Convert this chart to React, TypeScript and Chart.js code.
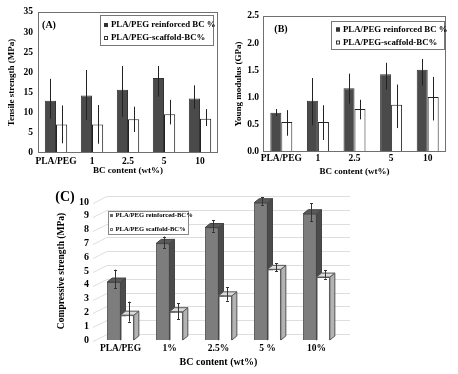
import React, { useEffect, useRef } from 'react';
import { Chart, registerables } from 'chart.js';
Chart.register(...registerables);

const SERIF = "'Liberation Serif', 'Times New Roman', serif";

// ---------- data ----------
const catsAB = ['PLA/PEG', '1', '2.5', '5', '10'];
const catsC = ['PLA/PEG', '1%', '2.5%', '5 %', '10%'];

const labelReinforcedAB = 'PLA/PEG reinforced BC %';
const labelScaffoldAB = 'PLA/PEG-scaffold-BC%';
const labelReinforcedC = 'PLA/PEG reinforced-BC%';
const labelScaffoldC = 'PLA/PEG scaffold-BC%';

// (A) Tensile strength (MPa)
const tensileReinforced = [13.0, 14.3, 15.7, 18.6, 13.5];
const tensileReinforcedLow = [8.5, 8.2, 9.0, 14.0, 11.0];
const tensileReinforcedHigh = [18.4, 20.6, 21.6, 21.6, 16.8];
const tensileScaffold = [7.1, 7.1, 8.4, 9.6, 8.5];
const tensileScaffoldLow = [2.4, 2.3, 5.2, 7.1, 6.7];
const tensileScaffoldHigh = [11.8, 11.9, 11.5, 13.2, 10.9];

// (B) Young modulus (GPa)
const youngReinforced = [0.72, 0.94, 1.17, 1.43, 1.51];
const youngReinforcedLow = [0.66, 0.49, 0.89, 1.15, 1.22];
const youngReinforcedHigh = [0.79, 1.36, 1.44, 1.64, 1.71];
const youngScaffold = [0.55, 0.55, 0.79, 0.87, 1.01];
const youngScaffoldLow = [0.3, 0.22, 0.6, 0.44, 0.58];
const youngScaffoldHigh = [0.77, 0.86, 0.96, 1.24, 1.38];

// (C) Compressive strength (MPa)
const compReinforced = [4.2, 7.0, 8.15, 9.95, 9.15];
const compReinforcedLow = [3.75, 6.65, 7.85, 9.8, 8.6];
const compReinforcedHigh = [5.1, 7.5, 8.7, 10.35, 9.9];
const compScaffold = [1.8, 2.05, 3.2, 5.12, 4.56];
const compScaffoldLow = [1.33, 1.5, 2.85, 5.0, 4.45];
const compScaffoldHigh = [2.78, 2.66, 3.82, 5.55, 5.07];

// ---------- plugins ----------
function makeFrame(color: string) {
  return {
    id: 'frame',
    afterDatasetsDraw(chart: any) {
      const { ctx, chartArea: a } = chart;
      ctx.save();
      ctx.strokeStyle = color;
      ctx.lineWidth = 1;
      const l = Math.round(a.left) + 0.5, t = Math.round(a.top) + 0.5;
      const r = Math.round(a.right) - 0.5, b = Math.round(a.bottom) - 0.5;
      ctx.strokeRect(l, t, r - l, b - t);
      ctx.restore();
    },
  };
}

function makeErrorBars(low: number[][], high: number[][], color: string, cap: number, shift: number) {
  return {
    id: 'errorBars',
    afterDatasetsDraw(chart: any) {
      const { ctx } = chart;
      const ys = chart.scales.y;
      ctx.save();
      ctx.strokeStyle = color;
      ctx.lineWidth = 1;
      low.forEach((lows, di) => {
        const meta = chart.getDatasetMeta(di);
        meta.data.forEach((el: any, j: number) => {
          const x = Math.round(el.x + shift) + 0.5;
          const y1 = ys.getPixelForValue(lows[j]);
          const y2 = ys.getPixelForValue(high[di][j]);
          ctx.beginPath();
          ctx.moveTo(x, y1);
          ctx.lineTo(x, y2);
          if (cap > 0) {
            ctx.moveTo(x - cap, Math.round(y1) + 0.5);
            ctx.lineTo(x + cap, Math.round(y1) + 0.5);
            ctx.moveTo(x - cap, Math.round(y2) + 0.5);
            ctx.lineTo(x + cap, Math.round(y2) + 0.5);
          }
          ctx.stroke();
        });
      });
      ctx.restore();
    },
  };
}

function makeLegend(cfg: {
  box: [number, number, number, number];
  rows: number[];
  markerX: number;
  textX: number;
  marker: number;
  fontSize: number;
  border: string;
}) {
  return {
    id: 'boxLegend',
    afterDraw(chart: any) {
      const { ctx } = chart;
      const [x0, y0, x1, y1] = cfg.box;
      ctx.save();
      ctx.fillStyle = '#fff';
      ctx.fillRect(x0, y0, x1 - x0, y1 - y0);
      ctx.strokeStyle = cfg.border;
      ctx.lineWidth = 1;
      ctx.strokeRect(x0 + 0.5, y0 + 0.5, x1 - x0 - 1, y1 - y0 - 1);
      ctx.font = `bold ${cfg.fontSize}px ${SERIF}`;
      ctx.textBaseline = 'middle';
      ctx.textAlign = 'left';
      chart.data.datasets.forEach((ds: any, i: number) => {
        const y = cfg.rows[i];
        const m = cfg.marker;
        const mx = cfg.markerX - m / 2, my = y - m / 2;
        ctx.fillStyle = ds.legendFill;
        ctx.fillRect(mx, my, m, m);
        ctx.strokeStyle = ds.legendStroke;
        ctx.strokeRect(mx + 0.5, my + 0.5, m - 1, m - 1);
        ctx.fillStyle = '#000';
        ctx.fillText(ds.label, cfg.textX, y);
      });
      ctx.restore();
    },
  };
}

function makePanelLabel(text: string, x: number, y: number, size: number) {
  return {
    id: 'panelLabel',
    afterDraw(chart: any) {
      const { ctx } = chart;
      ctx.save();
      ctx.font = `bold ${size}px ${SERIF}`;
      ctx.fillStyle = '#000';
      ctx.textAlign = 'center';
      ctx.textBaseline = 'middle';
      ctx.fillText(text, x, y);
      ctx.restore();
    },
  };
}

function makeGrid3D(dx: number, dy: number, front: number, extra: number, color: string) {
  return {
    id: 'grid3d',
    beforeDatasetsDraw(chart: any) {
      const { ctx, chartArea: a } = chart;
      const ys = chart.scales.y;
      ctx.save();
      ctx.strokeStyle = color;
      ctx.lineWidth = 1;
      ys.ticks.forEach((t: any) => {
        const y = Math.round(ys.getPixelForValue(t.value)) + 0.5;
        ctx.beginPath();
        ctx.moveTo(a.left - front, y + 1);
        ctx.lineTo(a.left - front + dx, y - dy);
        ctx.lineTo(a.right + extra, y - dy);
        ctx.stroke();
      });
      ctx.restore();
    },
  };
}

function makeBar3D(dx: number, dy: number, faces: { side: string; top: string; stroke: string }[]) {
  return {
    id: 'bar3d',
    afterDatasetsDraw(chart: any) {
      const { ctx } = chart;
      ctx.save();
      ctx.lineWidth = 1;
      faces.forEach((f, di) => {
        const meta = chart.getDatasetMeta(di);
        meta.data.forEach((el: any) => {
          el.draw(ctx, chart.chartArea);
          const { x, y, base, width } = el.getProps(['x', 'y', 'base', 'width'], true);
          const l = x - width / 2, r = x + width / 2;
          ctx.strokeStyle = f.stroke;
          ctx.fillStyle = f.side;
          ctx.beginPath();
          ctx.moveTo(r, y);
          ctx.lineTo(r + dx, y - dy);
          ctx.lineTo(r + dx, base - dy);
          ctx.lineTo(r, base);
          ctx.closePath();
          ctx.fill();
          ctx.stroke();
          ctx.fillStyle = f.top;
          ctx.beginPath();
          ctx.moveTo(l, y);
          ctx.lineTo(l + dx, y - dy);
          ctx.lineTo(r + dx, y - dy);
          ctx.lineTo(r, y);
          ctx.closePath();
          ctx.fill();
          ctx.stroke();
        });
      });
      ctx.restore();
    },
  };
}

// ---------- helpers ----------
const font = (size: number) => ({ family: SERIF, size, weight: 'bold' as const });

function axisOpts(p: {
  yMax: number; yStep: number; yFmt?: (v: number) => string;
  yWidth: number; xHeight: number;
  yTickPad: number; xTickPad: number;
  yTitle: string; yTitlePad: number; yTitleSize: number;
  xTitlePad: number; xTitleSize: number;
  tickSize: number; yTickSize: number;
}) {
  return {
    x: {
      grid: { display: false, drawTicks: false },
      border: { display: false },
      ticks: { color: '#000', font: font(p.tickSize), padding: p.xTickPad, maxRotation: 0, autoSkip: false },
      title: { display: true, text: 'BC content (wt%)', color: '#000', font: font(p.xTitleSize), padding: { top: 0, bottom: p.xTitlePad } },
      afterFit: (s: any) => { s.height = p.xHeight; },
    },
    y: {
      min: 0,
      max: p.yMax,
      grid: { display: false, drawTicks: false },
      border: { display: false },
      ticks: {
        stepSize: p.yStep,
        autoSkip: false,
        color: '#000',
        font: font(p.yTickSize),
        padding: p.yTickPad,
        callback: (v: any) => (p.yFmt ? p.yFmt(Number(v)) : String(v)),
      },
      title: { display: true, text: p.yTitle, color: '#000', font: font(p.yTitleSize), padding: { top: p.yTitlePad, bottom: 0 } },
      afterFit: (s: any) => { s.width = p.yWidth; },
    },
  };
}

function useChart(ref: React.RefObject<HTMLCanvasElement>, make: () => any) {
  useEffect(() => {
    if (!ref.current) return;
    const c = new Chart(ref.current, make());
    return () => c.destroy();
  }, []);
}

const DARK = '#4a4a4a';

export default function App() {
  const refA = useRef<HTMLCanvasElement>(null);
  const refB = useRef<HTMLCanvasElement>(null);
  const refC = useRef<HTMLCanvasElement>(null);

  useChart(refA, () => ({
    type: 'bar',
    data: {
      labels: catsAB,
      datasets: [
        { label: labelReinforcedAB, data: tensileReinforced, backgroundColor: DARK, borderColor: '#333', borderWidth: 1, categoryPercentage: 0.62, barPercentage: 1, legendFill: '#333', legendStroke: '#333' },
        { label: labelScaffoldAB, data: tensileScaffold, backgroundColor: '#fff', borderColor: '#222', borderWidth: 1, categoryPercentage: 0.62, barPercentage: 1, legendFill: '#fff', legendStroke: '#333' },
      ],
    },
    options: {
      responsive: false,
      animation: false,
      layout: { padding: { left: 0, right: 10, top: 12, bottom: 0 } },
      plugins: { legend: { display: false }, tooltip: { enabled: false } },
      scales: axisOpts({
        yMax: 35, yStep: 5, yWidth: 38, xHeight: 27, yTickPad: 5, xTickPad: 3,
        yTitle: 'Tensile strength (MPa)', yTitlePad: 6.5, yTitleSize: 9,
        xTitlePad: 4, xTitleSize: 9, tickSize: 9.5, yTickSize: 9.5,
      }),
    },
    plugins: [
      makeFrame('#707070'),
      makeErrorBars([tensileReinforcedLow, tensileScaffoldLow], [tensileReinforcedHigh, tensileScaffoldHigh], '#222', 0, 0),
      makeLegend({ box: [100, 15, 214, 46], rows: [25, 38], markerX: 106, textX: 111, marker: 4, fontSize: 8.8, border: '#777' }),
      makePanelLabel('(A)', 49, 25, 10),
    ],
  }));

  useChart(refB, () => ({
    type: 'bar',
    data: {
      labels: catsAB,
      datasets: [
        { label: labelReinforcedAB, data: youngReinforced, backgroundColor: DARK, borderColor: '#333', borderWidth: 1, categoryPercentage: 0.6, barPercentage: 1, legendFill: '#333', legendStroke: '#333' },
        { label: labelScaffoldAB, data: youngScaffold, backgroundColor: '#fff', borderColor: '#222', borderWidth: 1, categoryPercentage: 0.6, barPercentage: 1, legendFill: '#fff', legendStroke: '#333' },
      ],
    },
    options: {
      responsive: false,
      animation: false,
      layout: { padding: { left: 0, right: 12, top: 16, bottom: 0 } },
      plugins: { legend: { display: false }, tooltip: { enabled: false } },
      scales: axisOpts({
        yMax: 2.5, yStep: 0.5, yFmt: (v) => v.toFixed(1), yWidth: 35, xHeight: 28, yTickPad: 4, xTickPad: 1,
        yTitle: 'Young modulus (GPa)', yTitlePad: 5.6, yTitleSize: 9,
        xTitlePad: 2.6, xTitleSize: 9, tickSize: 9.5, yTickSize: 9.5,
      }),
    },
    plugins: [
      makeFrame('#707070'),
      makeErrorBars([youngReinforcedLow, youngScaffoldLow], [youngReinforcedHigh, youngScaffoldHigh], '#222', 0, 0),
      makeLegend({ box: [103, 21, 217, 50], rows: [29.5, 42.5], markerX: 110, textX: 115, marker: 4, fontSize: 8.8, border: '#777' }),
      makePanelLabel('(B)', 53, 29, 10),
    ],
  }));

  useChart(refC, () => ({
    type: 'bar',
    data: {
      labels: catsC,
      datasets: [
        { label: labelReinforcedC, data: compReinforced, backgroundColor: '#7d7d7d', borderColor: '#555', borderWidth: 1, categoryPercentage: 0.545, barPercentage: 1, legendFill: '#666', legendStroke: '#666' },
        { label: labelScaffoldC, data: compScaffold, backgroundColor: '#fff', borderColor: '#555', borderWidth: 1, categoryPercentage: 0.545, barPercentage: 1, legendFill: '#fff', legendStroke: '#777' },
      ],
    },
    options: {
      responsive: false,
      animation: false,
      layout: { padding: { left: 0, right: 117, top: 22, bottom: 0 } },
      plugins: { legend: { display: false }, tooltip: { enabled: false } },
      scales: axisOpts({
        yMax: 10, yStep: 1, yWidth: 96, xHeight: 34, yTickPad: 7, xTickPad: 3.3,
        yTitle: 'Compressive strength (MPa)', yTitlePad: 56.3, yTitleSize: 9.5,
        xTitlePad: 5.3, xTitleSize: 10, tickSize: 9.5, yTickSize: 10,
      }),
    },
    plugins: [
      makeGrid3D(14, 6, 3, 9, '#dedede'),
      makeBar3D(5, 4, [
        { side: '#4b4b4b', top: '#5a5a5a', stroke: '#444' },
        { side: '#b3b3b3', top: '#dcdcdc', stroke: '#555' },
      ]),
      makeErrorBars([compReinforcedLow, compScaffoldLow], [compReinforcedHigh, compScaffoldHigh], '#333', 1.5, 1.5),
      makeLegend({ box: [108, 31, 189, 55], rows: [35.5, 49.5], markerX: 111.5, textX: 115.5, marker: 3, fontSize: 6.6, border: '#888' }),
      makePanelLabel('(C)', 65, 17, 14),
    ],
  }));

  return (
    <div style={{ position: 'absolute', left: 0, top: 0, width: 458, height: 374, background: '#fff' }}>
      <canvas ref={refA} width={228} height={180} style={{ position: 'absolute', left: 0, top: 0, width: 228, height: 180 }} />
      <canvas ref={refB} width={230} height={180} style={{ position: 'absolute', left: 228, top: 0, width: 230, height: 180 }} />
      <canvas ref={refC} width={458} height={194} style={{ position: 'absolute', left: 0, top: 180, width: 458, height: 194 }} />
    </div>
  );
}
